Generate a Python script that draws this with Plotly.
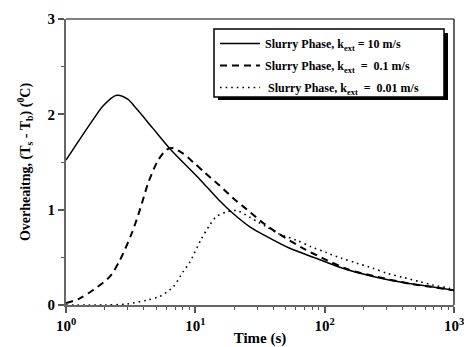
import plotly.graph_objects as go

# ---- data ----
time_k10 = [1, 1.28, 1.63, 1.94, 2.46, 3.0, 3.5, 4.72, 6.36, 10.8, 15.0, 19.6, 26.4, 35.5, 53.7, 86, 138, 236, 427, 686, 1000]
heat_k10 = [1.52, 1.74, 1.95, 2.09, 2.20, 2.16, 2.06, 1.85, 1.64, 1.32, 1.11, 0.96, 0.82, 0.72, 0.595, 0.49, 0.385, 0.30, 0.23, 0.19, 0.155]

time_k01 = [1, 1.28, 1.63, 2.19, 2.61, 3.22, 3.73, 4.32, 5.16, 6.0, 6.74, 8.0, 9.6, 11.8, 15.5, 20.8, 24.9, 33.4, 47.6, 68, 97, 150, 250, 450, 1000]
heat_k01 = [0.02, 0.07, 0.16, 0.30, 0.47, 0.75, 1.0, 1.28, 1.52, 1.63, 1.645, 1.59, 1.50, 1.39, 1.25, 1.09, 1.005, 0.86, 0.72, 0.595, 0.49, 0.375, 0.298, 0.225, 0.155]

time_k001 = [1, 2, 2.94, 4.2, 5.3, 6.74, 8.05, 9.07, 11.0, 12.8, 14.6, 17.9, 21.0, 26.4, 30.5, 35.5, 43.6, 60.4, 78.9, 103, 135, 176, 236, 308, 403, 542, 686, 923, 1000]
heat_k001 = [0.0, 0.0, 0.01, 0.05, 0.09, 0.19, 0.35, 0.45, 0.68, 0.83, 0.93, 0.98, 0.99, 0.92, 0.87, 0.82, 0.75, 0.68, 0.61, 0.55, 0.49, 0.44, 0.385, 0.33, 0.29, 0.245, 0.21, 0.175, 0.165]

series_names = [
    "Slurry Phase, k<sub>ext</sub> = 10 m/s",
    "Slurry Phase, k<sub>ext</sub> \u00a0= \u00a00.1 m/s",
    "\u00a0Slurry Phase, k<sub>ext</sub> \u00a0= \u00a00.01 m/s",
]

x_tick_alias = {"1": "10<sup>0</sup>", "10": "10<sup>1</sup>", "100": "10<sup>2</sup>", "1000": "10<sup>3</sup>"}

FONT = "Liberation Serif"

fig = go.Figure()
fig.add_trace(go.Scatter(x=time_k10, y=heat_k10, mode="lines", name=series_names[0], legendgroup="a",
                         line=dict(color="black", width=1.5, shape="spline", smoothing=0.8)))
fig.add_trace(go.Scatter(x=time_k01, y=heat_k01, mode="lines", name=series_names[1], legendgroup="b",
                         line=dict(color="black", width=2, dash="7px,5px", shape="spline", smoothing=0.8)))
fig.add_trace(go.Scatter(x=time_k001, y=heat_k001, mode="lines", name=series_names[2], legendgroup="c",
                         line=dict(color="black", width=1.6, dash="1.6px,4px", shape="spline", smoothing=0.8)))

L, R, T, B = 66, 10, 19, 42
W, H = 464, 347
pw, ph = W - L - R, H - T - B


def px_x(p):
    return (p - L) / pw


def px_y(p):
    return (H - B - p) / ph


fig.update_layout(
    width=W, height=H,
    margin=dict(l=L, r=R, t=T, b=B),
    paper_bgcolor="white", plot_bgcolor="white",
    font=dict(family=FONT, size=14, color="black", weight="bold"),
    showlegend=True,
    legend=dict(
        x=px_x(215), y=px_y(29), xanchor="left", yanchor="top",
        bgcolor="rgba(0,0,0,0)", borderwidth=0,
        font=dict(family=FONT, size=12, color="black", weight="bold"),
        tracegroupgap=3, itemwidth=40,
    ),
    xaxis=dict(
        type="log", range=[0, 3], dtick=1, exponentformat="none",
        labelalias=x_tick_alias, automargin=False, ticklabeloverflow="allow",
        ticks="outside", ticklen=6, tickwidth=1.5, tickcolor="#555",
        minor=dict(ticks="outside", ticklen=3, tickwidth=1, tickcolor="#555", dtick="D1", showgrid=False),
        showline=True, linecolor="#666", linewidth=2,
        showgrid=False, zeroline=False,
        tickfont=dict(family=FONT, size=15, color="black", weight="bold"),
        title=dict(text="Time (s)", standoff=9, font=dict(family=FONT, size=15, weight="bold")),
    ),
    yaxis=dict(
        range=[0, 3], dtick=1, automargin=False,
        ticks="outside", ticklen=6, tickwidth=1.5, tickcolor="#555",
        minor=dict(ticks="outside", ticklen=3, tickwidth=1, tickcolor="#555", dtick=0.5, showgrid=False),
        showline=True, linecolor="#666", linewidth=2,
        showgrid=False, zeroline=False,
        tickfont=dict(family=FONT, size=15, color="black", weight="bold"),
        title=dict(text="Overheaitng, (T<sub>s</sub> - T<sub>b</sub>) (<sup>0</sup>C)", standoff=14,
                   font=dict(family=FONT, size=14, weight="bold")),
    ),
    shapes=[
        dict(type="line", xref="paper", yref="paper", x0=0, x1=1, y0=1, y1=1,
             line=dict(color="black", width=1.2)),
        dict(type="line", xref="paper", yref="paper", x0=1, x1=1, y0=0, y1=1,
             line=dict(color="black", width=1.2)),
        # legend shadow
        dict(type="rect", xref="paper", yref="paper",
             x0=px_x(218), x1=px_x(448), y0=px_y(100), y1=px_y(33),
             fillcolor="black", line=dict(width=0), layer="above"),
        # legend box
        dict(type="rect", xref="paper", yref="paper",
             x0=px_x(214), x1=px_x(444), y0=px_y(97), y1=px_y(29),
             fillcolor="white", line=dict(color="black", width=1.5), layer="above"),
    ],
)

fig.write_html("out.html")
